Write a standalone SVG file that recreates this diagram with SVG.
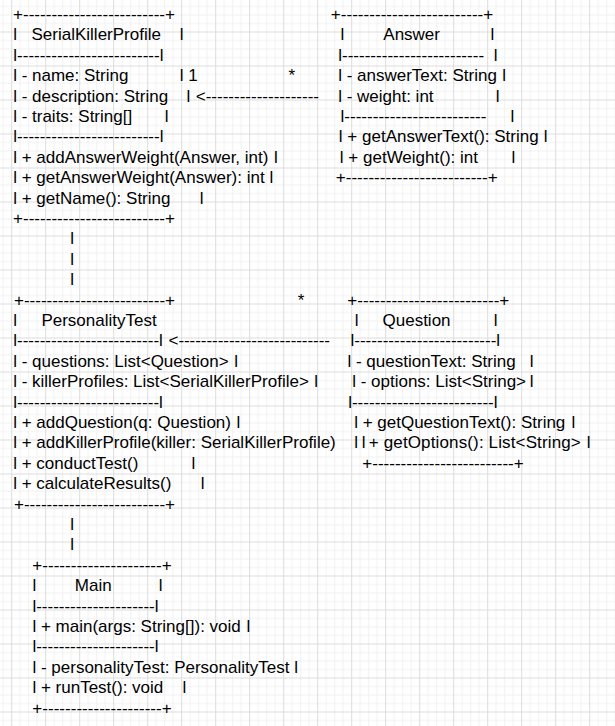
<svg xmlns="http://www.w3.org/2000/svg" width="615" height="726" viewBox="0 0 615 726">
<style>
text { font-family: "Liberation Sans", Arial, Helvetica, sans-serif; font-size: 17px; fill: #000; }
</style>
<defs>
<pattern id="grid" width="34" height="34" patternUnits="userSpaceOnUse" x="11.2" y="31.5">
<rect x="0" y="0" width="34" height="34" fill="#ffffff"/>
<rect x="8.5" y="0" width="1" height="34" fill="#f1f1f1"/>
<rect x="17" y="0" width="1" height="34" fill="#f1f1f1"/>
<rect x="25.5" y="0" width="1" height="34" fill="#f1f1f1"/>
<rect x="0" y="8.5" width="34" height="1" fill="#f1f1f1"/>
<rect x="0" y="17" width="34" height="1" fill="#f1f1f1"/>
<rect x="0" y="25.5" width="34" height="1" fill="#f1f1f1"/>
<rect x="0" y="0" width="1" height="34" fill="#dcdcdc"/>
<rect x="0" y="0" width="34" height="1" fill="#dcdcdc"/>
</pattern>
</defs>
<rect x="0" y="0" width="615" height="726" fill="url(#grid)"/>

<g id="node-serialkillerprofile">
<text x="13.06" y="20" textLength="161.9" lengthAdjust="spacing">+-------------------------+</text>
<text y="40.4"><tspan x="13.15">l</tspan><tspan x="31.5">SerialKillerProfile</tspan><tspan x="179.85">l</tspan></text>
<text x="13.15" y="60.8" textLength="150.4" lengthAdjust="spacing">l-------------------------l</text>
<text y="81.2"><tspan x="13.15">l - name: String</tspan><tspan x="179.85">l</tspan></text>
<text y="101.6"><tspan x="13.15">l - description: String</tspan><tspan x="186.45">l</tspan></text>
<text y="122"><tspan x="13.15">l - traits: String[]</tspan><tspan x="164.85">l</tspan></text>
<text x="13.15" y="142.4" textLength="150.4" lengthAdjust="spacing">l-------------------------l</text>
<text y="162.8"><tspan x="13.15">l + addAnswerWeight(Answer, int)</tspan><tspan x="274">l</tspan></text>
<text y="183.2"><tspan x="13.15">l + getAnswerWeight(Answer): int</tspan><tspan x="269.5">l</tspan></text>
<text y="203.6"><tspan x="13.15">l + getName(): String</tspan><tspan x="199.85">l</tspan></text>
<text x="13.06" y="224" textLength="161.9" lengthAdjust="spacing">+-------------------------+</text>
</g>

<g id="node-answer">
<text x="330.76" y="20" textLength="162.5" lengthAdjust="spacing">+-------------------------+</text>
<text y="40.4"><tspan x="340.45">l</tspan><tspan x="383.3">Answer</tspan><tspan x="490.45">l</tspan></text>
<text y="60.8"><tspan x="338.15" textLength="145.9" lengthAdjust="spacing">l-------------------------</tspan><tspan x="493.85">l</tspan></text>
<text y="81.2"><tspan x="338.15">l - answerText: String</tspan><tspan x="502.15">l</tspan></text>
<text y="101.6"><tspan x="338.15">l - weight: int</tspan><tspan x="495.85">l</tspan></text>
<text y="122"><tspan x="340.45" textLength="146" lengthAdjust="spacing">l-------------------------</tspan><tspan x="510.45">l</tspan></text>
<text y="142.4"><tspan x="338.85">l + getAnswerText(): String</tspan><tspan x="543.85">l</tspan></text>
<text y="162.8"><tspan x="339.85">l + getWeight(): int</tspan><tspan x="511.45">l</tspan></text>
<text x="335.76" y="183.2" textLength="161.9" lengthAdjust="spacing">+-------------------------+</text>
</g>

<g id="node-personalitytest">
<text x="14.06" y="305.6" textLength="160.9" lengthAdjust="spacing">+-------------------------+</text>
<text y="326"><tspan x="13.15">l</tspan><tspan x="41.4">PersonalityTest</tspan></text>
<text x="13.15" y="346.4" textLength="149.7" lengthAdjust="spacing">l-------------------------l</text>
<text y="366.8"><tspan x="13.15">l - questions: List&lt;Question&gt;</tspan><tspan x="234.15">l</tspan></text>
<text y="387.2"><tspan x="13.15">l - killerProfiles: List&lt;SerialKillerProfile&gt;</tspan><tspan x="314.15">l</tspan></text>
<text x="13.15" y="407.6" textLength="149.7" lengthAdjust="spacing">l-------------------------l</text>
<text y="428"><tspan x="13.15">l + addQuestion(q: Question)</tspan><tspan x="236.45">l</tspan></text>
<text y="448.4"><tspan x="13.15">l + addKillerProfile(killer: SerialKillerProfile)</tspan></text>
<text y="468.8"><tspan x="13.15">l + conductTest()</tspan><tspan x="191.45">l</tspan></text>
<text y="489.2"><tspan x="13.15">l + calculateResults()</tspan><tspan x="200.85">l</tspan></text>
<text x="14.06" y="509.6" textLength="160.9" lengthAdjust="spacing">+-------------------------+</text>
</g>

<g id="node-question">
<text x="347.36" y="305.6" textLength="161.9" lengthAdjust="spacing">+-------------------------+</text>
<text y="326"><tspan x="354.85">l</tspan><tspan x="382.5">Question</tspan><tspan x="493.85">l</tspan></text>
<text x="350.45" y="346.4" textLength="149.7" lengthAdjust="spacing">l-------------------------l</text>
<text y="366.8"><tspan x="347.45">l - questionText: String</tspan><tspan x="529.85">l</tspan></text>
<text y="387.2"><tspan x="352.15">l - options: List&lt;String&gt;</tspan><tspan x="529.85">l</tspan></text>
<text x="348.15" y="407.6" textLength="149.4" lengthAdjust="spacing">l-------------------------l</text>
<text y="428"><tspan x="354.15">l + getQuestionText(): String</tspan><tspan x="571.45">l</tspan></text>
<text y="448.4"><tspan x="354.3">l</tspan><tspan x="361.8">l</tspan><tspan x="368.8" textLength="212" lengthAdjust="spacing">+ getOptions(): List&lt;String&gt;</tspan><tspan x="586.8">l</tspan></text>
<text x="362.36" y="468.8" textLength="161.3" lengthAdjust="spacing">+-------------------------+</text>
</g>

<g id="node-main">
<text x="32.36" y="570.8" textLength="139.3" lengthAdjust="spacing">+---------------------+</text>
<text y="591.2"><tspan x="32.45">l</tspan><tspan x="74.8">Main</tspan><tspan x="158.85">l</tspan></text>
<text x="32.45" y="611.6" textLength="126.1" lengthAdjust="spacing">l---------------------l</text>
<text y="632"><tspan x="32.45">l + main(args: String[]): void</tspan><tspan x="246.45">l</tspan></text>
<text x="32.45" y="652.4" textLength="126.1" lengthAdjust="spacing">l---------------------l</text>
<text y="672.8"><tspan x="32.45">l - personalityTest: PersonalityTest</tspan><tspan x="294.15">l</tspan></text>
<text y="693.2"><tspan x="32.45">l + runTest(): void</tspan><tspan x="182.45">l</tspan></text>
<text x="32.36" y="713.6" textLength="139.3" lengthAdjust="spacing">+---------------------+</text>
</g>

<g id="connectors">
<text x="188.25" y="81.2">1</text>
<text x="288.4" y="81.2">*</text>
<text x="195.7" y="101.6" textLength="123.3" lengthAdjust="spacing">&lt;--------------------</text>
<text x="70.15" y="244.4">l</text>
<text x="70.15" y="264.8">l</text>
<text x="70.15" y="285.2">l</text>
<text x="297.7" y="305.6">*</text>
<text x="168.5" y="346.4" textLength="161.5" lengthAdjust="spacing">&lt;---------------------------</text>
<text x="70.15" y="530">l</text>
<text x="70.15" y="550.4">l</text>
</g>
</svg>
